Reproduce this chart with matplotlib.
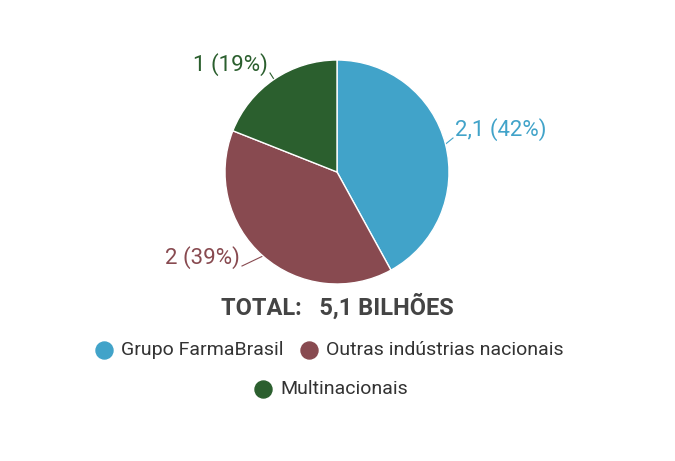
import matplotlib.pyplot as plt
import numpy as np

plt.rcParams['font.family'] = ['Roboto', 'DejaVu Sans']

categories = ['Grupo FarmaBrasil', 'Outras indústrias nacionais', 'Multinacionais']
values = [2.1, 2.0, 1.0]
percents = [42, 39, 19]
labels = ['2,1 (42%)', '2 (39%)', '1 (19%)']
colors = ['#41a3c9', '#884a50', '#2b5f2e']

W, H = 675, 461
fig = plt.figure(figsize=(W / 100, H / 100), dpi=100)

# overlay axes in pixel coordinates for legend markers
over = fig.add_axes([0, 0, 1, 1])
over.set_xlim(0, W)
over.set_ylim(H, 0)
over.axis('off')

cx, cy, r = 337, 172, 112
ax = fig.add_axes([(cx - r) / W, (H - cy - r) / H, 2 * r / W, 2 * r / H])
ax.pie(percents, colors=colors, startangle=90, counterclock=False,
       wedgeprops=dict(edgecolor='white', linewidth=1))
ax.set_aspect('equal')
ax.set_xlim(-1, 1)
ax.set_ylim(-1, 1)

label_pos = [(455, 130, 'left'), (240, 258, 'right'), (268, 65, 'right')]
angles = []
start = 90
for p in percents:
    angles.append(np.deg2rad(start - p * 3.6 / 2))
    start -= p * 3.6
for (lx, ly, ha), lab, col, a in zip(label_pos, labels, colors, angles):
    fig.text(lx / W, 1 - ly / H, lab, color=col, fontsize=16, ha=ha, va='center')
    px, py = cx + r * np.cos(a), cy - r * np.sin(a)
    over.plot([px, lx - 2 if ha == 'left' else lx + 2], [py, ly + 8], color=col, lw=0.8)

fig.text(337 / W, 1 - 307 / H, 'TOTAL:   5,1 BILHÕES', fontsize=17, fontweight='bold',
         color='#444444', ha='center', va='center')

leg_items = [(104, 350, 0), (309, 350, 1), (263, 389, 2)]
for x, y, i in leg_items:
    over.scatter([x], [y], s=150, color=colors[i])
    fig.text((x + 17) / W, 1 - y / H, categories[i], fontsize=14, color='#333333',
             ha='left', va='center')

fig.savefig('out.png', dpi=100)
